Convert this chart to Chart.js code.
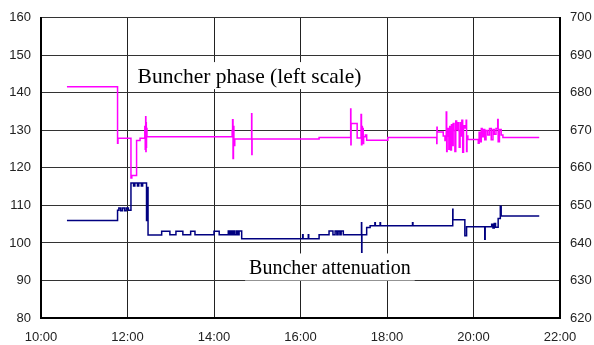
<!DOCTYPE html>
<html>
<head>
<meta charset="utf-8">
<script src="https://cdn.jsdelivr.net/npm/chart.js@4/dist/chart.umd.min.js"></script>
<style>
  html, body { margin: 0; padding: 0; background: #fff; }
  #grafico { display: block; }
</style>
</head>
<body>
<canvas id="grafico" width="594" height="345"></canvas>
<script>
// =============================
// DATA
// =============================
const xTickLabels = ["10:00", "12:00", "14:00", "16:00", "18:00", "20:00", "22:00"];
const leftTicks = [80, 90, 100, 110, 120, 130, 140, 150, 160];
const rightTicks = [620, 630, 640, 650, 660, 670, 680, 690, 700];

// time in hours, value holds until the next time
const phaseTimes = [
  10.60, 11.77, 11.78, 12.08, 12.10, 12.21, 12.29, 12.40, 12.41, 12.42,
  12.425, 12.43, 12.435, 12.44, 12.45, 14.42, 14.43, 14.44, 14.45, 14.46,
  14.48, 14.87, 14.875, 14.88, 16.43, 17.16, 17.165, 17.17, 17.31, 17.40,
  17.41, 17.42, 17.43, 17.44, 17.45, 17.46, 17.50, 17.53, 18.02, 19.15,
  19.155, 19.16, 19.30, 19.34, 19.37, 19.38, 19.39, 19.41, 19.43, 19.45,
  19.47, 19.49, 19.51, 19.53, 19.55, 19.57, 19.59, 19.61, 19.63, 19.65,
  19.67, 19.69, 19.71, 19.73, 19.75, 19.77, 19.80, 19.83, 19.84, 19.85,
  19.87, 20.11, 20.13, 20.15, 20.18, 20.20, 20.23, 20.26, 20.29, 20.33,
  20.37, 20.41, 20.45, 20.48, 20.52, 20.56, 20.57, 20.60, 20.64, 20.68,
  21.52
];
const phaseValues = [
  141.6, 126.6, 127.9, 117.3, 118.0, 127.3, 127.9, 131.0, 125.0, 133.6,
  124.4, 132.0, 125.5, 130.5, 128.3, 130.0, 132.8, 122.5, 131.0, 126.0,
  127.7, 134.4, 123.6, 127.7, 128.1, 135.7, 126.2, 131.8, 128.0, 134.2,
  126.2, 131.0, 127.0, 130.5, 126.5, 128.3, 128.8, 127.4, 128.1, 126.5,
  130.8, 129.6, 128.5, 127.3, 134.9, 124.4, 128.5, 130.5, 125.0, 131.0,
  124.8, 131.5, 126.0, 131.8, 130.0, 124.4, 132.5, 130.2, 132.0, 130.0,
  125.5, 132.0, 128.5, 132.7, 124.2, 131.2, 130.6, 132.7, 124.4, 128.5,
  127.6, 126.6, 129.5, 127.0, 130.5, 128.3, 130.2, 127.5, 130.0, 128.8,
  130.5, 127.5, 130.2, 129.0, 130.5, 132.9, 127.0, 130.2, 128.8, 128.1,
  128.1
];

const attenTimes = [
  10.60, 11.77, 11.80, 11.84, 11.88, 11.93, 11.97, 12.02, 12.08, 12.14,
  12.17, 12.23, 12.26, 12.32, 12.35, 12.44, 12.47, 12.475, 12.79, 12.98,
  13.12, 13.28, 13.46, 13.56, 14.00, 14.12, 14.33, 14.36, 14.39, 14.42,
  14.45, 14.48, 14.52, 14.55, 14.58, 14.64, 16.05, 16.06, 16.18, 16.19,
  16.43, 16.66, 16.75, 16.80, 16.84, 16.87, 16.91, 16.94, 16.99, 17.41,
  17.415, 17.42, 17.53, 17.61, 17.72, 17.73, 17.84, 17.85, 18.59, 18.60,
  19.52, 19.525, 19.80, 19.84, 20.26, 20.27, 20.42, 20.45, 20.48, 20.51,
  20.57, 20.62, 20.64, 21.52
];
const attenValues = [
  646.0, 648.7, 649.3, 648.6, 649.3, 648.6, 649.3, 648.7, 656.0, 655.2,
  656.0, 655.2, 656.0, 655.2, 656.0, 646.0, 654.8, 642.1, 643.1, 642.2,
  643.1, 642.2, 643.1, 642.2, 643.1, 642.2, 643.2, 642.2, 643.2, 642.2,
  643.2, 642.2, 643.2, 642.2, 643.2, 641.1, 642.2, 641.1, 642.2, 641.1,
  642.2, 643.2, 642.2, 643.2, 642.2, 643.2, 642.2, 643.2, 642.2, 645.4,
  637.5, 642.2, 644.1, 644.6, 645.4, 644.6, 645.4, 644.6, 645.4, 644.6,
  649.0, 646.2, 641.9, 644.3, 641.0, 644.3, 645.0, 644.0, 645.2, 644.2,
  646.5, 649.8, 647.2, 647.2
];

const seriesLabels = ["Buncher phase (left scale)", "Buncher attenuation"];

// =============================
// TEXT INSIDE THE PLOT
// =============================
const notes = [
  { text: seriesLabels[0], x: 14.82, y: 142.6, size: 21.5 },
  { text: seriesLabels[1], x: 16.68, y: 91.6, size: 20 }
];

const notesPlugin = {
  id: "notes",
  afterDatasetsDraw(chart) {
    const ctx = chart.ctx;
    const sx = chart.scales.x;
    const sy = chart.scales.y;
    ctx.save();
    ctx.textAlign = "center";
    ctx.textBaseline = "alphabetic";
    notes.forEach(n => {
      ctx.font = n.size + 'px "Liberation Serif", "Times New Roman", serif';
      const px = sx.getPixelForValue(n.x);
      const py = sy.getPixelForValue(n.y);
      const w = ctx.measureText(n.text).width;
      ctx.fillStyle = "#fff";
      ctx.fillRect(px - w / 2 - 4, py - 21, w + 8, 27);
      ctx.fillStyle = "#000";
      ctx.fillText(n.text, px, py);
    });
    ctx.restore();
  }
};

// =============================
// CHART
// =============================
function toPoints(times, values) {
  return times.map((t, i) => ({ x: t, y: values[i] }));
}

const tickFont = { family: '"Liberation Sans", Arial, sans-serif', size: 13 };

new Chart(document.getElementById("grafico"), {
  type: "line",
  data: {
    datasets: [
      {
        label: seriesLabels[0],
        data: toPoints(phaseTimes, phaseValues),
        yAxisID: "y",
        borderColor: "#ff00ff",
        borderWidth: 1.5,
        stepped: true,
        pointRadius: 0
      },
      {
        label: seriesLabels[1],
        data: toPoints(attenTimes, attenValues),
        yAxisID: "y2",
        borderColor: "#000080",
        borderWidth: 1.5,
        stepped: true,
        pointRadius: 0
      }
    ]
  },
  options: {
    responsive: false,
    animation: false,
    devicePixelRatio: 1,
    layout: { padding: { top: 14, left: 0, right: 0, bottom: 0 } },
    plugins: {
      legend: { display: false },
      tooltip: { enabled: false }
    },
    scales: {
      x: {
        type: "linear",
        min: 10,
        max: 22,
        afterBuildTicks: s => { s.ticks = xTickLabels.map((_, i) => ({ value: 10 + i * 2 })); },
        afterFit: s => { s.height = 27; },
        ticks: {
          autoSkip: false,
          maxRotation: 0,
          padding: 12,
          color: "#222",
          font: tickFont,
          callback: (v, i) => xTickLabels[i]
        },
        grid: { color: "#222", lineWidth: 1, drawTicks: false },
        border: { color: "#000", width: 2 }
      },
      y: {
        position: "left",
        min: 80,
        max: 160,
        afterBuildTicks: s => { s.ticks = leftTicks.map(v => ({ value: v })); },
        afterFit: s => { s.width = 41; },
        ticks: { padding: 10, color: "#222", font: tickFont },
        grid: { color: "#333", lineWidth: 1, drawTicks: false },
        border: { color: "#000", width: 2 }
      },
      y2: {
        position: "right",
        min: 620,
        max: 700,
        afterBuildTicks: s => { s.ticks = rightTicks.map(v => ({ value: v })); },
        afterFit: s => { s.width = 34; },
        ticks: { padding: 10, color: "#222", font: tickFont },
        grid: { display: false, drawTicks: false },
        border: { color: "#000", width: 2 }
      }
    }
  },
  plugins: [notesPlugin]
});
</script>
</body>
</html>
